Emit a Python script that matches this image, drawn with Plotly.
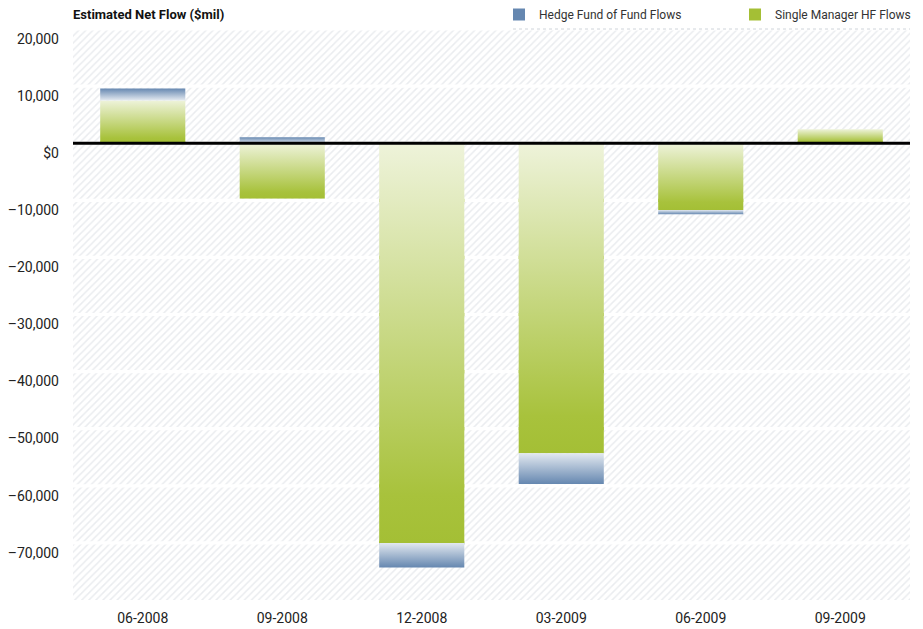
import plotly.graph_objects as go

# Quarterly estimated net flows, $ millions
quarters = ["06-2008", "09-2008", "12-2008", "03-2009", "06-2009", "09-2009"]
single_manager_flows = [7500, -9700, -70000, -54300, -11700, 2450]
fund_of_fund_flows = [2100, 1050, -4300, -5400, -750, 0]

y_tick_values = [20000, 10000, 0, -10000, -20000, -30000, -40000, -50000, -60000, -70000]
y_tick_labels = ["20,000", "10,000", "$0", "–10,000", "–20,000", "–30,000",
                 "–40,000", "–50,000", "–60,000", "–70,000"]

Y_MIN, Y_MAX = -80000, 20000
BAR_WIDTH = 0.61
FONT = "Roboto, sans-serif"

GREEN = "#a4bf35"
GREEN_LIGHT = "#eef3da"
BLUE = "#6587b0"
BLUE_LIGHT = "#e3e9f0"

# Figure geometry (px)
W, H = 923, 629
M_L, M_R, M_T, M_B = 73, 13, 29, 29
PLOT_W = W - M_L - M_R
PLOT_H = H - M_T - M_B

x_pos = list(range(len(quarters)))
fig = go.Figure()

# Hatched plot background, split into bands so the white gaps act as gridlines
gap = 280
band_x, band_y = [], []
for lower in range(Y_MIN, Y_MAX, 10000):
    y0 = lower if lower == Y_MIN else lower + gap
    y1 = lower + 10000 - gap
    band_x += [-0.5, 5.5, 5.5, -0.5, -0.5, None]
    band_y += [y0, y0, y1, y1, y0, None]
fig.add_trace(go.Scatter(
    x=band_x, y=band_y, mode="none", fill="toself",
    fillcolor="rgba(0,0,0,0)",
    fillpattern=dict(shape="/", fgcolor="#d6dae0", bgcolor="white", size=5, solidity=0.3),
    hoverinfo="skip", showlegend=False,
))

# Stacked bars (solid colour base, also provides the legend entries)
series = [
    ("Single Manager HF Flows", single_manager_flows, GREEN, "legend2"),
    ("Hedge Fund of Fund Flows", fund_of_fund_flows, BLUE, "legend"),
]
for name, values, color, legend_id in series:
    fig.add_trace(go.Bar(
        x=x_pos, y=values, name=name, width=BAR_WIDTH,
        marker=dict(color=color, line=dict(width=0)),
        legend=legend_id,
    ))

# Gradient shading over each stacked segment
pos_base = [0] * len(quarters)
neg_base = [0] * len(quarters)
for name, values, color, legend_id in series:
    for i, v in enumerate(values):
        if v == 0:
            continue
        if v > 0:
            y0 = pos_base[i]
            y1 = y0 + v
            pos_base[i] = y1
        else:
            y0 = neg_base[i]
            y1 = y0 + v
            neg_base[i] = y1
        lo, hi = min(y0, y1), max(y0, y1)
        if color == GREEN:
            scale = [[0, GREEN], [0.12, "#a8c23c"], [1, GREEN_LIGHT]]
        elif v > 0:
            scale = [[0, BLUE_LIGHT], [1, BLUE]]
        else:
            scale = [[0, BLUE], [1, BLUE_LIGHT]]
        xl, xr = i - BAR_WIDTH / 2, i + BAR_WIDTH / 2
        fig.add_trace(go.Scatter(
            x=[xl, xr, xr, xl, xl], y=[lo, lo, hi, hi, lo],
            mode="none", fill="toself",
            fillgradient=dict(type="vertical", colorscale=scale, start=lo, stop=hi),
            hoverinfo="skip", showlegend=False,
        ))

# Zero baseline
fig.add_shape(type="line", xref="paper", x0=0, x1=1, yref="y", y0=0, y1=0,
              line=dict(color="black", width=3), layer="above")
# Dotted rule under the legend
fig.add_shape(type="line", xref="paper", x0=(513 - M_L) / PLOT_W, x1=1, yref="paper", y0=1, y1=1,
              line=dict(color="#cfd4da", width=1, dash="dot"), layer="above")

fig.add_annotation(
    text="<b>Estimated Net Flow ($mil)</b>", xref="paper", yref="paper",
    x=0, y=1, xanchor="left", yanchor="bottom", xshift=-2, yshift=5, showarrow=False,
    font=dict(family=FONT, size=13, color="#111"),
)

legend_style = dict(
    orientation="h", xanchor="left", yanchor="top", y=1 + M_T / PLOT_H,
    itemwidth=30, font=dict(family=FONT, size=12, color="#333"),
    bgcolor="rgba(0,0,0,0)",
)

fig.update_layout(
    width=W, height=H,
    margin=dict(l=M_L, r=M_R, t=M_T, b=M_B, autoexpand=False),
    plot_bgcolor="white", paper_bgcolor="white",
    barmode="relative",
    font=dict(family=FONT, size=14, color="#222"),
    showlegend=True,
    legend=dict(x=(499 - M_L) / PLOT_W, **legend_style),
    legend2=dict(x=(735 - M_L) / PLOT_W, **legend_style),
    xaxis=dict(
        range=[-0.5, 5.5], tickvals=x_pos, ticktext=quarters,
        showgrid=False, zeroline=False, showline=False, ticks="",
        ticklabelstandoff=8, automargin=False,
    ),
    yaxis=dict(
        range=[Y_MIN, Y_MAX], tickvals=y_tick_values, ticktext=y_tick_labels,
        showgrid=False, zeroline=False, showline=False, ticks="",
        ticklabelposition="outside bottom", ticklabelstandoff=13, automargin=False,
    ),
)

fig.write_html("out.html")
